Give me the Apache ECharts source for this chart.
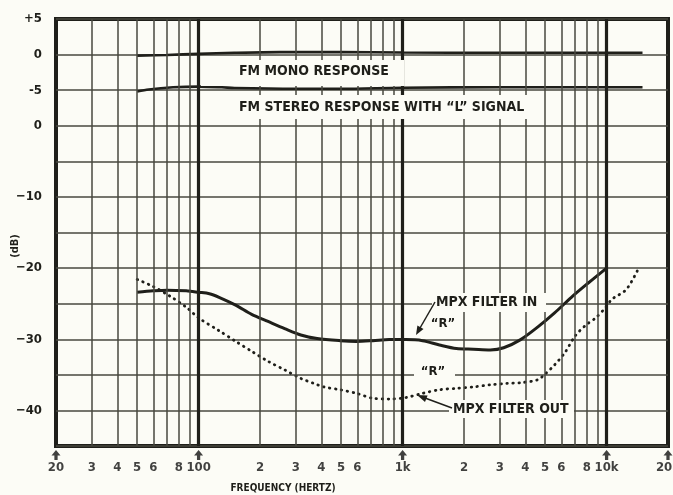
<!DOCTYPE html>
<html><head><meta charset="utf-8">
<script src="https://cdn.jsdelivr.net/npm/echarts@6/dist/echarts.min.js"></script>
<style>html,body{margin:0;padding:0;background:#fcfcf6}#c{width:673px;height:495px}</style>
</head><body><div id="c"></div>
<script>
// ---------- data ----------
const monoFreq   = [50, 70, 100, 150, 250, 500, 1000, 3000, 7000, 15000];
const monoDb     = [-0.15, -0.05, 0.1, 0.25, 0.35, 0.35, 0.3, 0.25, 0.25, 0.25];

const stereoFreq = [50, 57, 75, 100, 130, 150, 300, 500, 1000, 3000, 7000, 15000];
const stereoDb   = [-5.2, -4.9, -4.6, -4.5, -4.6, -4.7, -4.8, -4.8, -4.65, -4.6, -4.6, -4.6];

const mpxInFreq  = [50, 60, 70, 87, 100, 113, 126, 152, 182, 219, 264, 317, 381, 494, 594, 715, 860, 1035, 1253, 1516, 1835, 2222, 2690, 3130, 3790, 4590, 5560, 6720, 8130, 10000];
const mpxInDb    = [-23.4, -23.2, -23.1, -23.2, -23.4, -23.6, -24.1, -25.2, -26.5, -27.5, -28.5, -29.4, -29.9, -30.2, -30.3, -30.2, -30.05, -30.05, -30.2, -30.8, -31.3, -31.4, -31.5, -31.2, -30.05, -28.3, -26.3, -24.1, -22.1, -20.0];

const mpxOutFreq = [50, 59, 72, 87, 100, 126, 152, 182, 219, 264, 317, 367, 411, 494, 594, 715, 860, 1035, 1253, 1516, 1835, 2222, 2690, 3250, 3790, 4590, 5040, 5560, 6240, 7010, 7880, 8840, 9920, 10600, 12500, 14360];
const mpxOutDb   = [-21.6, -22.5, -23.9, -25.5, -27.0, -28.8, -30.3, -31.7, -33.1, -34.3, -35.5, -36.2, -36.7, -37.1, -37.6, -38.3, -38.4, -38.2, -37.6, -37.1, -36.9, -36.7, -36.4, -36.2, -36.1, -35.7, -34.8, -33.6, -31.9, -29.55, -28.05, -27.0, -25.5, -24.4, -23.0, -20.0];

// axis ticks / labels
const xTickValues = [20, 30, 40, 50, 60, 80, 100, 200, 300, 400, 500, 600, 1000, 2000, 3000, 4000, 5000, 6000, 8000, 10000, 20000];
const xTickText   = ['20', '3', '4', '5', '6', '8', '100', '2', '3', '4', '5', '6', '1k', '2', '3', '4', '5', '6', '8', '10k', '20k'];
const xArrowTicks = [20, 100, 1000, 10000, 20000];
const majorFreqLines = [100, 1000, 10000];
const minorFreqLines = [30, 40, 50, 60, 70, 80, 90, 200, 300, 400, 500, 600, 700, 800, 900, 2000, 3000, 4000, 5000, 6000, 7000, 8000, 9000];

const lowerTickVals = [0, -10, -20, -30, -40];
const lowerTickText = ['0', '\u221210', '\u221220', '\u221230', '\u221240'];
const upperTickVals = [5, 0, -5];
const upperTickText = ['+5', '0', '-5'];

// ---------- styling ----------
const FONT = "'Liberation Sans Narrow','DejaVu Sans Condensed','Roboto','Noto Sans',sans-serif";
const BG = '#fcfcf6';
const INK = '#1f1f1a';
const GRIDC = '#48483f';
const LOWER_MIN = -45, LOWER_MAX = 15, UPPER_MIN = -55, UPPER_MAX = 5;

const zip = (a, b) => a.map((x, i) => [x, b[i]]);
const chart = echarts.init(document.getElementById('c'), null, { renderer: 'canvas' });

function txt(text, x, y, size, align) {
  return { type: 'text', z: 101, x: x, y: y,
    style: { text: text, fill: INK, font: 'bold ' + size + 'px ' + FONT, align: align || 'left', verticalAlign: 'middle' } };
}
function box(x, y, w, h) {
  return { type: 'rect', z: 100, shape: { x: x, y: y, width: w, height: h }, style: { fill: BG } };
}

const option = {
  animation: false,
  backgroundColor: BG,
  grid: { left: 56, right: 5, top: 19, bottom: 49, show: true, borderColor: INK, borderWidth: 4, backgroundColor: BG },
  xAxis: {
    type: 'log', logBase: 10, min: 20, max: 20000,
    axisLine: { show: false }, axisTick: { show: false }, axisLabel: { show: false }, splitLine: { show: false }
  },
  yAxis: [
    { type: 'value', min: LOWER_MIN, max: LOWER_MAX, interval: 5, position: 'left',
      axisLine: { show: false }, axisTick: { show: false },
      splitLine: { show: true, lineStyle: { color: GRIDC, width: 1.7 } },
      axisLabel: { margin: 14, fontFamily: FONT, fontWeight: 'bold', fontSize: 13, color: INK,
        formatter: v => { const i = lowerTickVals.indexOf(v); return i >= 0 ? lowerTickText[i] : ''; } } },
    { type: 'value', min: UPPER_MIN, max: UPPER_MAX, interval: 5, position: 'left',
      axisLine: { show: false }, axisTick: { show: false }, splitLine: { show: false },
      axisLabel: { margin: 14, fontFamily: FONT, fontWeight: 'bold', fontSize: 13, color: INK,
        formatter: v => { const i = upperTickVals.indexOf(v); return i >= 0 ? upperTickText[i] : ''; } } }
  ],
  series: [
    { // tick labels along the frequency axis + vertical grid lines
      type: 'scatter', z: 1, yAxisIndex: 0, symbolSize: 1, clip: false, silent: true,
      itemStyle: { color: 'rgba(0,0,0,0)' },
      data: xTickValues.map((f, i) => ({ value: [f, LOWER_MIN], name: xTickText[i] })),
      label: { show: true, position: 'bottom', distance: 15, formatter: p => p.name,
        fontFamily: FONT, fontWeight: 'bold', fontSize: 13, color: '#111' },
      markLine: {
        silent: true, symbol: ['none', 'none'], label: { show: false },
        data: minorFreqLines.map(f => ({ xAxis: f, lineStyle: { color: GRIDC, width: 1.5, type: 'solid' } }))
          .concat(majorFreqLines.map(f => ({ xAxis: f, lineStyle: { color: INK, width: 3.2, type: 'solid' } })))
      }
    },
    { // arrows above the decade labels
      type: 'scatter', z: 2, yAxisIndex: 0, clip: false, silent: true,
      symbol: 'path://M5 0 L10 5.5 L6.8 5.5 L6.8 10 L3.2 10 L3.2 5.5 L0 5.5 Z',
      symbolSize: [9, 10], symbolOffset: [0, 9],
      itemStyle: { color: '#111' },
      data: xArrowTicks.map(f => [f, LOWER_MIN])
    },
    { name: 'FM MONO RESPONSE', type: 'line', z: 3, yAxisIndex: 1, smooth: 0.3, showSymbol: false,
      lineStyle: { color: INK, width: 2.6 }, data: zip(monoFreq, monoDb) },
    { name: 'FM STEREO RESPONSE', type: 'line', z: 3, yAxisIndex: 1, smooth: 0.3, showSymbol: false,
      lineStyle: { color: INK, width: 2.6 }, data: zip(stereoFreq, stereoDb) },
    { name: 'MPX FILTER IN', type: 'line', z: 3, yAxisIndex: 0, smooth: 0.3, showSymbol: false,
      lineStyle: { color: INK, width: 3 }, data: zip(mpxInFreq, mpxInDb) },
    { name: 'MPX FILTER OUT', type: 'line', z: 3, yAxisIndex: 0, smooth: 0.3, showSymbol: false,
      lineStyle: { color: INK, width: 2.8, type: [0.5, 5.5], cap: 'round' }, data: zip(mpxOutFreq, mpxOutDb) }
  ],
  graphic: { elements: [
    box(201, 60, 203, 26),
    txt('FM MONO RESPONSE', 239, 71, 14),
    box(201, 95, 339, 24),
    txt('FM STEREO RESPONSE WITH \u201CL\u201D SIGNAL', 239, 107, 14),
    box(432, 293, 114, 19),
    txt('MPX FILTER IN', 436, 302, 14),
    box(434, 315, 22, 18),
    txt('\u201CR\u201D', 443, 324, 13, 'center'),
    box(414, 364, 41, 18),
    txt('\u201CR\u201D', 433, 372, 13, 'center'),
    box(449, 400, 125, 18),
    txt('MPX FILTER OUT', 453, 409, 14),
    { type: 'line', z: 102, shape: { x1: 435, y1: 302, x2: 420, y2: 328 }, style: { stroke: INK, lineWidth: 1.5 } },
    { type: 'polygon', z: 102, shape: { points: [[416, 335], [423.5, 328.9], [417.4, 325.5]] }, style: { fill: INK } },
    { type: 'line', z: 102, shape: { x1: 452, y1: 408, x2: 425, y2: 398 }, style: { stroke: INK, lineWidth: 1.5 } },
    { type: 'polygon', z: 102, shape: { points: [[417, 395], [427.6, 395.4], [425, 402]] }, style: { fill: INK } },
    txt('FREQUENCY (HERTZ)', 283, 488, 10, 'center'),
    { type: 'text', z: 101, x: 15, y: 246, rotation: Math.PI / 2,
      style: { text: '(dB)', fill: INK, font: 'bold 11px ' + FONT, align: 'center', verticalAlign: 'middle' } }
  ] }
};
chart.setOption(option);
</script>
</body></html>
